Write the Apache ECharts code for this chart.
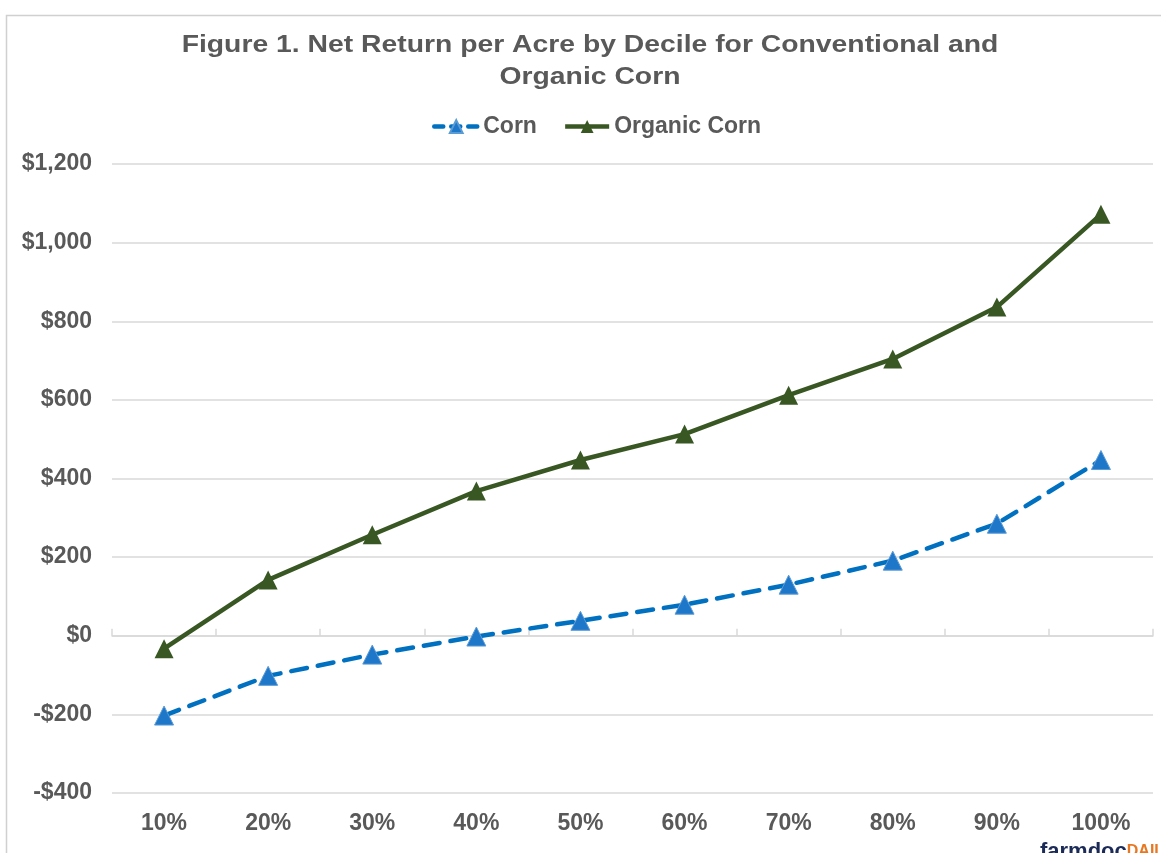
<!DOCTYPE html>
<html>
<head>
<meta charset="utf-8">
<script src="https://cdn.jsdelivr.net/npm/echarts@6/dist/echarts.min.js"></script>
<style>
  html, body { margin: 0; padding: 0; background: #fff; }
  #chart { width: 1161px; height: 853px; }
</style>
</head>
<body>
<div id="chart"></div>
<script>
// deciles on the x axis
const deciles = ['10%', '20%', '30%', '40%', '50%', '60%', '70%', '80%', '90%', '100%']
// net return per acre, $
const cornReturn = [-203, -102, -48, -2, 38, 79, 130, 191, 285, 447]
const organicReturn = [-33, 142, 257, 368, 447, 513, 612, 704, 836, 1072]
// y axis range
const yMin = -400
const yMax = 1200
const yStep = 200

const textGrey = '#595959'
const blue = '#0070c0'
const green = '#385723'
const font = 'Liberation Sans, Arial, sans-serif'

const chart = echarts.init(document.getElementById('chart'))

// dollar labels like $1,200 / -$400
function money(v) {
  let s = '$' + Math.abs(v).toLocaleString('en-US')
  return v < 0 ? '-' + s : s
}

const option = {
  animation: false,
  legend: {
    top: 110,
    left: 427,
    itemWidth: 44,
    itemHeight: 16,
    itemGap: 26,
    textStyle: {
      fontFamily: font,
      fontSize: 23,
      fontWeight: 'bold',
      color: textGrey
    },
    data: [
      { name: 'Corn', lineStyle: { width: 4.5, type: [9, 8], cap: 'round' } },
      { name: 'Organic Corn', lineStyle: { width: 4.5 } }
    ]
  },
  grid: {
    left: 112,
    right: 8,
    top: 164,
    bottom: 60,
    containLabel: false
  },
  xAxis: [
    {
      // labels at the bottom of the plot
      type: 'category',
      data: deciles,
      position: 'bottom',
      axisLine: { show: false, onZero: false },
      axisTick: { show: false },
      axisLabel: {
        margin: 19,
        fontFamily: font,
        fontSize: 23,
        fontWeight: 'bold',
        color: textGrey
      }
    },
    {
      // axis line and ticks crossing at $0
      type: 'category',
      data: deciles,
      position: 'bottom',
      axisLine: { show: true, onZero: true, lineStyle: { color: '#d9d9d9', width: 1.5 } },
      axisTick: { show: true, inside: true, length: 7, lineStyle: { color: '#d9d9d9', width: 1.5 } },
      axisLabel: { show: false }
    }
  ],
  yAxis: {
    type: 'value',
    min: yMin,
    max: yMax,
    interval: yStep,
    axisLine: { show: false },
    axisTick: { show: false },
    splitLine: { lineStyle: { color: '#d9d9d9', width: 1.5 } },
    axisLabel: {
      margin: 20,
      formatter: money,
      fontFamily: font,
      fontSize: 23,
      fontWeight: 'bold',
      color: textGrey
    }
  },
  series: [
    {
      name: 'Corn',
      type: 'line',
      data: cornReturn,
      symbol: 'triangle',
      symbolSize: 19,
      lineStyle: { color: blue, width: 4.5, type: [16, 11], cap: 'round' },
      itemStyle: { color: '#1f77c9', borderColor: '#5b9bd5', borderWidth: 1 },
      z: 3
    },
    {
      name: 'Organic Corn',
      type: 'line',
      data: organicReturn,
      symbol: 'triangle',
      symbolSize: 19,
      lineStyle: { color: green, width: 4.5 },
      itemStyle: { color: green, borderColor: green, borderWidth: 0 },
      z: 4
    }
  ],
  graphic: [
    {
      // outer chart frame
      type: 'rect',
      left: 4,
      top: 13,
      shape: { width: 1200, height: 900 },
      style: { fill: 'none', stroke: '#d0d0d0', lineWidth: 1.5 },
      silent: true
    },
    {
      // title, drawn a bit wide like the original
      type: 'text',
      x: 590,
      y: 29,
      scaleX: 1.18,
      style: {
        text: 'Figure 1. Net Return per Acre by Decile for Conventional and\nOrganic Corn',
        font: 'bold 24px ' + font,
        fill: textGrey,
        lineHeight: 32,
        align: 'center',
        verticalAlign: 'top'
      }
    },
    {
      // logo, cut off at the bottom edge
      type: 'text',
      x: 1040,
      y: 841,
      style: {
        text: '{a|farmdoc}{b|DAILY}',
        verticalAlign: 'top',
        rich: {
          a: { fontFamily: font, fontSize: 22, fontWeight: 'bold', fill: '#1b2a57' },
          b: { fontFamily: font, fontSize: 16, fontWeight: 'bold', fill: '#e87722' }
        }
      }
    }
  ]
}

chart.setOption(option)
</script>
</body>
</html>
